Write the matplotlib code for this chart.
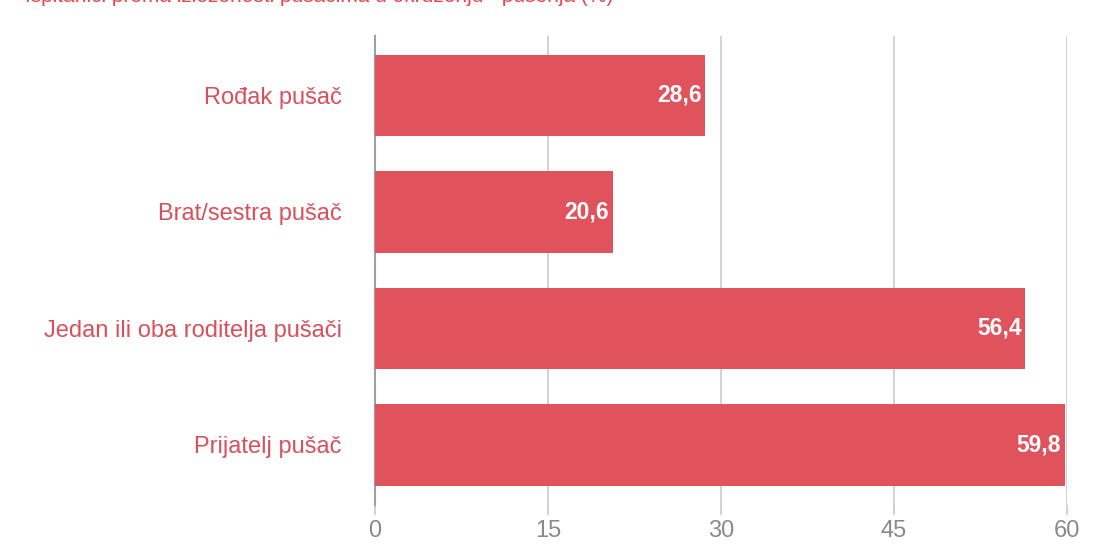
import matplotlib
matplotlib.use("Agg")
import matplotlib.pyplot as plt
from matplotlib import font_manager

categories = ["Rođak pušač", "Brat/sestra pušač", "Jedan ili oba roditelja pušači", "Prijatelj pušač"]
values = [28.6, 20.6, 56.4, 59.8]
value_labels = ["28,6", "20,6", "56,4", "59,8"]
xticks = [0, 15, 30, 45, 60]
title = "Ispitanici prema izloženosti pušačima u okruženju - pušenja (%)"

names = {f.name for f in font_manager.fontManager.ttflist}
main_font = "Liberation Sans" if "Liberation Sans" in names else "DejaVu Sans"
narrow_font = "Liberation Sans Narrow" if "Liberation Sans Narrow" in names else main_font

bar_color = "#E0535C"
label_color = "#D8505B"

fig = plt.figure(figsize=(11.05, 5.49), dpi=100)
ax = fig.add_axes([375/1105, 1 - 505/549, (1067-375)/1105, (505-36)/549])

y = list(range(len(categories)))
ax.barh(y, values, height=0.70, color=bar_color, zorder=3)
ax.set_ylim(3.515, -0.51)
ax.set_xlim(0, 60)

for yi, v, lab in zip(y, values, value_labels):
    ax.text(v - 0.3, yi, lab, ha="right", va="center", color="white",
            fontsize=16.5, fontweight="bold", family=main_font, zorder=4)

ax.set_yticks(y)
ax.set_yticklabels(categories, fontsize=17, color=label_color, family=main_font)
ax.tick_params(axis="y", length=0, pad=24)

ax.set_xticks(xticks)
ax.set_xticklabels([str(t) for t in xticks], fontsize=17, color="#8a8a8a", family=narrow_font)
ax.tick_params(axis="x", length=7, width=1.2, color="#c8c8c8", pad=4)

ax.grid(axis="x", color="#cfcfcf", linewidth=1.3, zorder=0)
ax.set_axisbelow(True)
for s in ["top", "right", "bottom"]:
    ax.spines[s].set_visible(False)
ax.spines["left"].set_color("#a0a0a0")
ax.spines["left"].set_linewidth(1.5)

fig.text(25/1105, 1 + 4/549, title, ha="left", va="center", fontsize=15,
         color="#EC434B", family=main_font)

fig.savefig("out.png", dpi=100)
